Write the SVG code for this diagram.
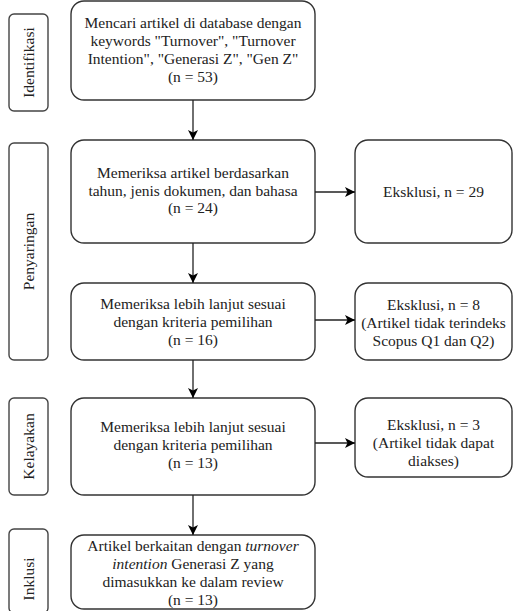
<svg xmlns="http://www.w3.org/2000/svg" width="513" height="611" viewBox="0 0 513 611">
<defs>
<marker id="ah" viewBox="0 0 10 10" refX="10" refY="5" markerWidth="10" markerHeight="10" markerUnits="userSpaceOnUse" orient="auto">
<path d="M0,0 L10,5 L0,10 L2.5,5 Z" fill="#000"/>
</marker>
<style>
.box{fill:#fff;stroke:#333;stroke-width:1.4}
.lbl{fill:#fff;stroke:#444;stroke-width:1.4}
text{font-family:"Liberation Serif","Times New Roman",serif;font-size:15.5px;fill:#222;text-anchor:middle}
.conn{stroke:#222;stroke-width:1.3;fill:none;marker-end:url(#ah)}
</style>
</defs>
<rect width="513" height="611" fill="#fff"/>
<g id="lbl-identifikasi">
<rect class="lbl" x="9" y="14" width="39" height="97" rx="5"/>
<text transform="translate(33.5,62.5) rotate(-90)">Identifikasi</text>
</g>
<g id="lbl-penyaringan">
<rect class="lbl" x="9" y="143" width="39" height="217" rx="5"/>
<text transform="translate(33.5,251.5) rotate(-90)">Penyaringan</text>
</g>
<g id="lbl-kelayakan">
<rect class="lbl" x="9" y="398" width="39" height="97" rx="5"/>
<text transform="translate(33.5,446.5) rotate(-90)">Kelayakan</text>
</g>
<g id="lbl-inklusi">
<rect class="lbl" x="9" y="529" width="39" height="84" rx="5"/>
<text transform="translate(33.5,579) rotate(-90)">Inklusi</text>
</g>
<g id="n1">
<rect class="box" x="71" y="1" width="244" height="99" rx="13"/>
<text x="193" y="27.5">Mencari artikel di database dengan</text>
<text x="193" y="45.5">keywords "Turnover", "Turnover</text>
<text x="193" y="63.5">Intention", "Generasi Z", "Gen Z"</text>
<text x="193" y="81.5">(n = 53)</text>
</g>
<g id="n2">
<rect class="box" x="71" y="140" width="244" height="103" rx="13"/>
<text x="193" y="178">Memeriksa artikel berdasarkan</text>
<text x="193" y="195.5">tahun, jenis dokumen, dan bahasa</text>
<text x="193" y="213">(n = 24)</text>
</g>
<g id="e1">
<rect class="box" x="355" y="140" width="157" height="103" rx="13"/>
<text x="433.5" y="196.5">Eksklusi, n = 29</text>
</g>
<g id="n3">
<rect class="box" x="71" y="283" width="244" height="77" rx="13"/>
<text x="193" y="309">Memeriksa lebih lanjut sesuai</text>
<text x="193" y="327">dengan kriteria pemilihan</text>
<text x="193" y="345">(n = 16)</text>
</g>
<g id="e2">
<rect class="box" x="355" y="283" width="157" height="77" rx="13"/>
<text x="433.5" y="310">Eksklusi, n = 8</text>
<text x="433.5" y="328">(Artikel tidak terindeks</text>
<text x="433.5" y="346">Scopus Q1 dan Q2)</text>
</g>
<g id="n4">
<rect class="box" x="71" y="398" width="244" height="97" rx="13"/>
<text x="193" y="432">Memeriksa lebih lanjut sesuai</text>
<text x="193" y="450">dengan kriteria pemilihan</text>
<text x="193" y="468">(n = 13)</text>
</g>
<g id="e3">
<rect class="box" x="355" y="398" width="157" height="79" rx="13"/>
<text x="433.5" y="430">Eksklusi, n = 3</text>
<text x="433.5" y="448">(Artikel tidak dapat</text>
<text x="433.5" y="466">diakses)</text>
</g>
<g id="n5">
<rect class="box" x="71" y="535" width="244" height="74" rx="13"/>
<text x="193" y="551">Artikel berkaitan dengan <tspan font-style="italic">turnover</tspan></text>
<text x="193" y="569"><tspan font-style="italic">intention</tspan> Generasi Z yang</text>
<text x="193" y="587">dimasukkan ke dalam review</text>
<text x="193" y="605">(n = 13)</text>
</g>
<g id="connectors">
<line class="conn" x1="193" y1="100" x2="193" y2="140"/>
<line class="conn" x1="193" y1="243" x2="193" y2="283"/>
<line class="conn" x1="193" y1="360" x2="193" y2="398"/>
<line class="conn" x1="193" y1="495" x2="193" y2="535"/>
<line class="conn" x1="315" y1="192" x2="355" y2="192"/>
<line class="conn" x1="315" y1="320" x2="355" y2="320"/>
<line class="conn" x1="315" y1="443" x2="355" y2="443"/>
</g>
</svg>
